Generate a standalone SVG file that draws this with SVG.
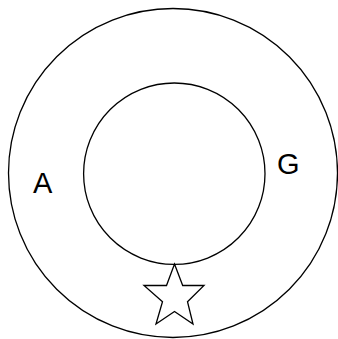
<svg xmlns="http://www.w3.org/2000/svg" width="338" height="339" viewBox="0 0 338 339">
<style>
.s{fill:#fff;stroke:#000;stroke-width:1.3}
.t{font-family:"Liberation Sans",Arial,sans-serif;font-size:29px;fill:#000}
</style>
<rect width="338" height="339" fill="#fff"/>
<g id="outer"><circle class="s" cx="173" cy="173" r="164.5"/></g>
<g id="inner"><circle class="s" cx="174.3" cy="173.7" r="90.7"/></g>
<g id="star"><polygon class="s" points="174.5,264 182.7,285.5 204,285.5 187.5,301.7 193,324 174.5,311.5 156,324 162.5,301.7 144,285.5 166.5,285.5"/></g>
<g id="labelA"><text class="t" x="33" y="192.7">A</text></g>
<g id="labelG"><text class="t" x="277" y="173.8">G</text></g>
<g id="connectors"></g>
</svg>
